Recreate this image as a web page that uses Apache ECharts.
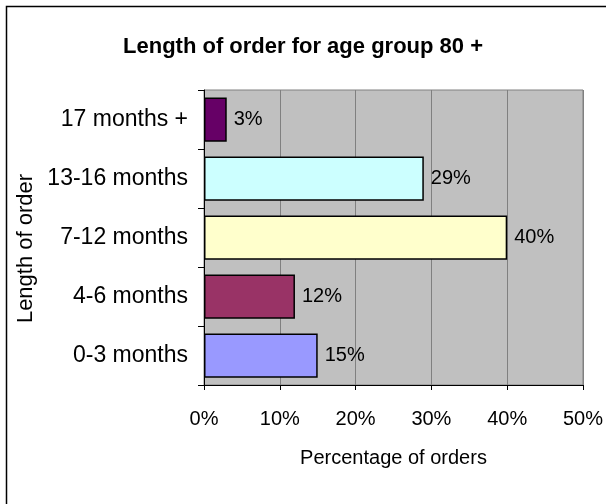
<!DOCTYPE html>
<html>
<head>
<meta charset="utf-8">
<script src="https://cdn.jsdelivr.net/npm/echarts@6/dist/echarts.min.js"></script>
<style>
  html, body { margin: 0; padding: 0; background: #ffffff; }
  #chart { width: 606px; height: 504px; }
</style>
</head>
<body>
<div id="chart"></div>
<script>
// Order length categories, listed bottom to top
var categories = ['0-3 months', '4-6 months', '7-12 months', '13-16 months', '17 months +'];
// Share of orders in each category (%)
var shares = [15, 12, 40, 29, 3];
// Fill colour of each bar
var barColors = ['#9999FF', '#993366', '#FFFFCC', '#CCFFFF', '#660066'];
// Percentage axis ticks
var xTicks = [0, 10, 20, 30, 40, 50];

var FONT = '"Liberation Sans", Arial, sans-serif';

var chart = echarts.init(document.getElementById('chart'), null, { renderer: 'canvas' });

chart.setOption({
  backgroundColor: '#ffffff',
  animation: false,
  title: {
    text: 'Length of order for age group 80 +',
    left: 'center',
    top: 31,
    textStyle: { fontFamily: FONT, fontSize: 22, fontWeight: 'bold', color: '#000000' }
  },
  grid: { left: 204, right: 18, top: 90, bottom: 119, containLabel: false,
          show: true, backgroundColor: '#C0C0C0', borderColor: '#808080', borderWidth: 1 },
  xAxis: {
    type: 'value',
    min: xTicks[0],
    max: xTicks[xTicks.length - 1],
    interval: xTicks[1] - xTicks[0],
    name: 'Percentage of orders',
    nameLocation: 'middle',
    nameGap: 63,
    nameTextStyle: { fontFamily: FONT, fontSize: 20, color: '#000000' },
    axisLine: { show: true, lineStyle: { color: '#000000', width: 1 } },
    axisTick: { show: true, inside: false, length: 5, lineStyle: { color: '#000000' } },
    axisLabel: { formatter: '{value}%', fontFamily: FONT, fontSize: 20, color: '#000000', margin: 24 },
    splitLine: { show: true, lineStyle: { color: '#808080', width: 1 } }
  },
  yAxis: {
    type: 'category',
    data: categories,
    name: 'Length of order',
    nameLocation: 'middle',
    nameGap: 162,
    nameRotate: 90,
    nameTextStyle: { fontFamily: FONT, fontSize: 22, color: '#000000', padding: [0, 22, 0, 0] },
    axisLine: { show: true, lineStyle: { color: '#000000', width: 1 } },
    axisTick: { show: true, inside: false, length: 6, alignWithLabel: false, lineStyle: { color: '#000000' } },
    axisLabel: { fontFamily: FONT, fontSize: 23, color: '#000000', margin: 16 },
    splitLine: { show: false }
  },
  series: [{
    type: 'bar',
    data: shares.map(function (v, i) {
      return { value: v, itemStyle: { color: barColors[i] } };
    }),
    barCategoryGap: '25%',
    itemStyle: { borderColor: '#000000', borderWidth: 1.5 },
    label: {
      show: true,
      position: 'right',
      distance: 7,
      formatter: function (p) { return p.value + '%'; },
      fontFamily: FONT,
      fontSize: 20,
      color: '#000000'
    }
  }],
  graphic: [{
    type: 'polyline',
    shape: { points: [[6.5, 504], [6.5, 6.5], [606, 6.5]] },
    style: { stroke: '#000000', lineWidth: 1.5, fill: null }
  }]
});
</script>
</body>
</html>
